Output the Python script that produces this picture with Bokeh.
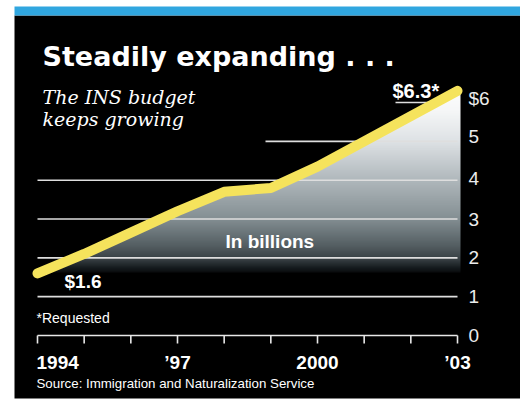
import numpy as np
from bokeh.plotting import figure
from bokeh.models import Range1d
from bokeh.core.properties import value
from bokeh.embed import file_html
from bokeh.resources import INLINE

# ---- data ----
years = [1994, 1995, 1996, 1997, 1998, 1999, 2000, 2001, 2002, 2003]
budget = [1.6, 2.1, 2.65, 3.2, 3.7, 3.8, 4.35, 5.0, 5.65, 6.3]
y_ticks = [0, 1, 2, 3, 4, 5, 6]
y_tick_labels = ["0", "1", "2", "3", "4", "5", "$6"]
x_label_years = [1994, 1997, 2000, 2003]
x_labels = ["1994", "\u201997", "2000", "\u201903"]
title = "Steadily expanding . . ."
subtitle = ["The INS budget", "keeps growing"]
first_label = "$1.6"
last_label = "$6.3*"
unit_label = "In billions"
note = "*Requested"
source = "Source: Immigration and Naturalization Service"

# ---- pixel <-> data helpers (layout) ----
PX_PER_YEAR = 46.667
PX_PER_UNIT = 38.83
DY = 5  # text baseline correction (px)
def xpx(px):
    return years[0] + (px - 37) / PX_PER_YEAR
def ypx(py):
    return (335 - py) / PX_PER_UNIT
def tpx(py):
    return ypx(py - DY)

W, H = 520, 403
p = figure(width=W, height=H, x_range=Range1d(xpx(0), xpx(W)),
           y_range=Range1d(ypx(H), ypx(0)), output_backend="svg",
           toolbar_location=None, min_border=0,
           x_axis_location=None, y_axis_location=None)
p.grid.visible = False
p.outline_line_color = None
p.background_fill_color = "white"
p.border_fill_color = "white"

# panel + blue band
p.quad(left=xpx(14), right=xpx(W + 2), top=ypx(15), bottom=ypx(398),
       fill_color="black", line_color=None)
p.quad(left=xpx(14), right=xpx(W + 2), top=ypx(6), bottom=ypx(15),
       fill_color="#30a6df", line_color=None)

# gradient fill under line
g_bottom = ypx(272)
g_top = 6.45
N = 300
vals = np.linspace(g_bottom, g_top, N)
stop_v = [g_bottom, 1.75, 1.95, 2.3, 3.0, 4.0, 5.0, 5.8, 6.45]
stop_r = [10, 24, 55, 84, 132, 176, 222, 246, 255]
stop_g = [12, 30, 63, 94, 143, 184, 226, 247, 255]
stop_b = [14, 33, 67, 98, 147, 188, 229, 248, 255]
img = np.empty((N, 1), dtype=np.uint32)
view = img.view(dtype=np.uint8).reshape((N, 1, 4))
view[:, 0, 0] = np.interp(vals, stop_v, stop_r).astype(np.uint8)
view[:, 0, 1] = np.interp(vals, stop_v, stop_g).astype(np.uint8)
view[:, 0, 2] = np.interp(vals, stop_v, stop_b).astype(np.uint8)
view[:, 0, 3] = 255
p.image_rgba(image=[img], x=years[0], y=g_bottom, dw=xpx(460) - years[0], dh=g_top - g_bottom)

# black mask above the line
mx = [years[0] - 0.2] + years + [years[-1] + 0.2, years[-1] + 0.2, years[0] - 0.2]
my = [budget[0]] + budget + [budget[-1], 7.5, 7.5]
p.patch(mx, my, fill_color="black", line_color="black", line_width=1)

# gridlines
grid_vals = [1, 2, 3, 4, 5, 6]
gx0 = [years[0], years[0], years[0], years[0], xpx(265), xpx(395)]
gx1 = [years[-1], years[-1], years[-1], years[-1], years[-1], xpx(436)]
p.segment(x0=gx0, y0=grid_vals, x1=gx1, y1=grid_vals, line_color="#dedede", line_width=1.6)

# x axis line and ticks
p.segment(x0=[years[0]], y0=[0], x1=[years[-1]], y1=[0], line_color="#e8e8e8", line_width=1.6)
p.segment(x0=years, y0=[0] * len(years), x1=years, y1=[ypx(343)] * len(years),
          line_color="#e8e8e8", line_width=1.6)

# budget line
p.line(years, budget, line_color="#f5e35c", line_width=10, line_cap="round", line_join="round")

SANS = value("Liberation Sans")
# y labels (small upward nudge for the top two, as in the original)
nudge_px = [0, 0, 0, 0, 2, 4.5, 4.5]
p.text(x=[xpx(468)] * len(y_ticks), y=[v + n / PX_PER_UNIT for v, n in zip(y_ticks, nudge_px)],
       text=y_tick_labels, text_font=SANS,
       text_font_size="19px", text_color="#ececec", text_align="left", text_baseline="middle")
# x labels
p.text(x=[xpx(36)], y=[tpx(367)], text=[x_labels[0]], text_font=SANS, text_font_size="19px",
       text_font_style="bold", text_color="white", text_align="left", text_baseline="alphabetic")
p.text(x=x_label_years[1:], y=[tpx(367)] * 3, text=x_labels[1:], text_font=SANS,
       text_font_size="19px", text_font_style="bold", text_color="white",
       text_align="center", text_baseline="alphabetic")

# annotations
p.text(x=[xpx(64)], y=[tpx(286)], text=[first_label], text_font=SANS, text_font_size="19px",
       text_font_style="bold", text_color="white", text_baseline="alphabetic")
p.text(x=[xpx(392)], y=[tpx(95)], text=[last_label], text_font=SANS, text_font_size="20px",
       text_font_style="bold", text_color="white", text_baseline="alphabetic")
p.text(x=[xpx(225)], y=[tpx(246)], text=[unit_label], text_font=SANS, text_font_size="19px",
       text_font_style="bold", text_color="white", text_baseline="alphabetic")
p.text(x=[xpx(36)], y=[tpx(322)], text=[note], text_font=SANS, text_font_size="14px",
       text_color="white", text_baseline="alphabetic")
p.text(x=[xpx(36)], y=[tpx(388)], text=[source], text_font=SANS, text_font_size="13.3px",
       text_color="white", text_baseline="alphabetic")

# title / subtitle
p.text(x=[xpx(42)], y=[tpx(61)], text=[title], text_font=value("DejaVu Sans"),
       text_font_size="27px", text_font_style="bold", text_color="white", text_baseline="alphabetic")
p.text(x=[xpx(42), xpx(42)], y=[tpx(101), tpx(123)], text=subtitle,
       text_font=value("DejaVu Serif"), text_font_size="19px", text_font_style="italic",
       text_color="white", text_baseline="alphabetic")

open("out.html", "w").write(file_html(p, INLINE))
